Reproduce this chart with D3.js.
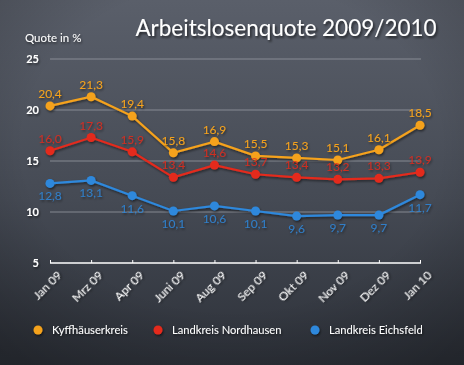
<!DOCTYPE html>
<html><head><meta charset="utf-8">
<script src="https://cdn.jsdelivr.net/npm/d3@7"></script>
<style>
html,body{margin:0;padding:0;background:#3b3f47;}
svg{display:block;font-family:Lato,"Open Sans",sans-serif;}
</style></head>
<body>
<script>
const categories = ["Jan 09","Mrz 09","Apr 09","Juni 09","Aug 09","Sep 09","Okt 09","Nov 09","Dez 09","Jan 10"];
const kyffhaeuser = [20.4,21.3,19.4,15.8,16.9,15.5,15.3,15.1,16.1,18.5];
const nordhausen = [16.0,17.3,15.9,13.4,14.6,13.7,13.4,13.2,13.3,13.9];
const eichsfeld = [12.8,13.1,11.6,10.1,10.6,10.1,9.6,9.7,9.7,11.7];
const yTicks = [5,10,15,20,25];
const seriesNames = ["Kyffhäuserkreis","Landkreis Nordhausen","Landkreis Eichsfeld"];
const colors = ["#f5a21c","#e42a1c","#2e88dc"];

const W=464,H=365;
const svg=d3.select("body").append("svg").attr("width",W).attr("height",H);
const defs=svg.append("defs");
const bg=defs.append("linearGradient").attr("id","bg").attr("x1",0).attr("y1",0).attr("x2",0).attr("y2",1);
bg.append("stop").attr("offset","0%").attr("stop-color","#5a5f6a");
bg.append("stop").attr("offset","55%").attr("stop-color","#454a54");
bg.append("stop").attr("offset","100%").attr("stop-color","#2d3139");
const vg=defs.append("radialGradient").attr("id","vg").attr("cx","50%").attr("cy","40%").attr("r","75%");
vg.append("stop").attr("offset","60%").attr("stop-color","#000").attr("stop-opacity",0);
vg.append("stop").attr("offset","100%").attr("stop-color","#000").attr("stop-opacity",0.25);
const sh=defs.append("filter").attr("id","sh").attr("x","-10%").attr("y","-20%").attr("width","130%").attr("height","160%");
sh.append("feDropShadow").attr("dx",1.5).attr("dy",2).attr("stdDeviation",1.2).attr("flood-color","#000").attr("flood-opacity",0.6);
const sh2=defs.append("filter").attr("id","sh2").attr("x","-20%").attr("y","-20%").attr("width","150%").attr("height","160%");
sh2.append("feDropShadow").attr("dx",1).attr("dy",1.5).attr("stdDeviation",0.8).attr("flood-color","#000").attr("flood-opacity",0.55);

svg.append("rect").attr("width",W).attr("height",H).attr("fill","url(#bg)");
svg.append("rect").attr("width",W).attr("height",H).attr("fill","url(#vg)");

const x=d3.scalePoint().domain(categories).range([50,420]);
const y=d3.scaleLinear().domain([5,25]).range([263,59]);

// title
svg.append("text").attr("x",286).attr("y",36).attr("text-anchor","middle")
 .attr("fill","#fff").attr("font-size",22.5)
 .attr("filter","url(#sh)").text("Arbeitslosenquote 2009/2010");
svg.append("text").attr("x",25).attr("y",42).attr("fill","#fff").attr("font-size",11.5)
 .attr("filter","url(#sh2)").text("Quote in %");

// grid
const g=svg.append("g");
g.selectAll("line.grid").data(yTicks.filter(d=>d>5)).join("line")
 .attr("x1",50).attr("x2",421).attr("y1",d=>y(d)).attr("y2",d=>y(d))
 .attr("stroke","#9a9ea6").attr("stroke-width",1.2).attr("opacity",0.75);
g.selectAll("text.yt").data(yTicks).join("text")
 .attr("x",39).attr("y",d=>y(d)+4).attr("text-anchor","end")
 .attr("fill","#fff").attr("font-size",11).attr("font-weight","bold")
 .attr("filter","url(#sh2)").text(d=>d);

// x axis
const xa=svg.append("g").attr("transform",`translate(0,${y(5)})`)
 .call(d3.axisBottom(x).tickSize(3).tickSizeOuter(0).tickPadding(0));
xa.select(".domain").attr("d",`M50,0H421`).attr("stroke","#fff").attr("stroke-width",1.5);
xa.selectAll(".tick line").attr("stroke","#fff").attr("y2",-3);
xa.selectAll(".tick text").attr("fill","#fff").attr("font-size",12)
 .attr("font-family","Lato,sans-serif")
 .attr("text-anchor","end").attr("y",0).attr("dy",0)
 .attr("transform","translate(12,13) rotate(-45)").attr("filter","url(#sh2)");

// series
const all=[kyffhaeuser,nordhausen,eichsfeld];
const line=d3.line().x((d,i)=>x(categories[i])).y(d=>y(d));
const fmt=v=>v.toFixed(1).replace(".",",");
all.forEach((vals,si)=>{
  const sg=svg.append("g").attr("filter","url(#sh2)");
  sg.append("path").datum(vals).attr("d",line).attr("fill","none")
    .attr("stroke",colors[si]).attr("stroke-width",2.2);
  sg.selectAll("circle").data(vals).join("circle")
    .attr("cx",(d,i)=>x(categories[i])).attr("cy",d=>y(d)).attr("r",4.5)
    .attr("fill",colors[si]);
});
all.forEach((vals,si)=>{
  svg.append("g").attr("filter","url(#sh2)").selectAll("text").data(vals).join("text")
    .attr("x",(d,i)=>x(categories[i])).attr("y",d=>si===2?y(d)+17:y(d)-8)
    .attr("text-anchor","middle").attr("fill",colors[si]).attr("font-size",12)
    .attr("opacity",si===0?1:0.85)
    .text(fmt);
});

// legend
const lx=[38,158,315];
seriesNames.forEach((n,i)=>{
  const lg=svg.append("g").attr("filter","url(#sh2)");
  lg.append("circle").attr("cx",lx[i]).attr("cy",330).attr("r",4.5).attr("fill",colors[i]);
  lg.append("text").attr("x",lx[i]+14).attr("y",334).attr("fill","#fff").attr("font-size",11.2).text(n);
});
</script>
</body></html>
